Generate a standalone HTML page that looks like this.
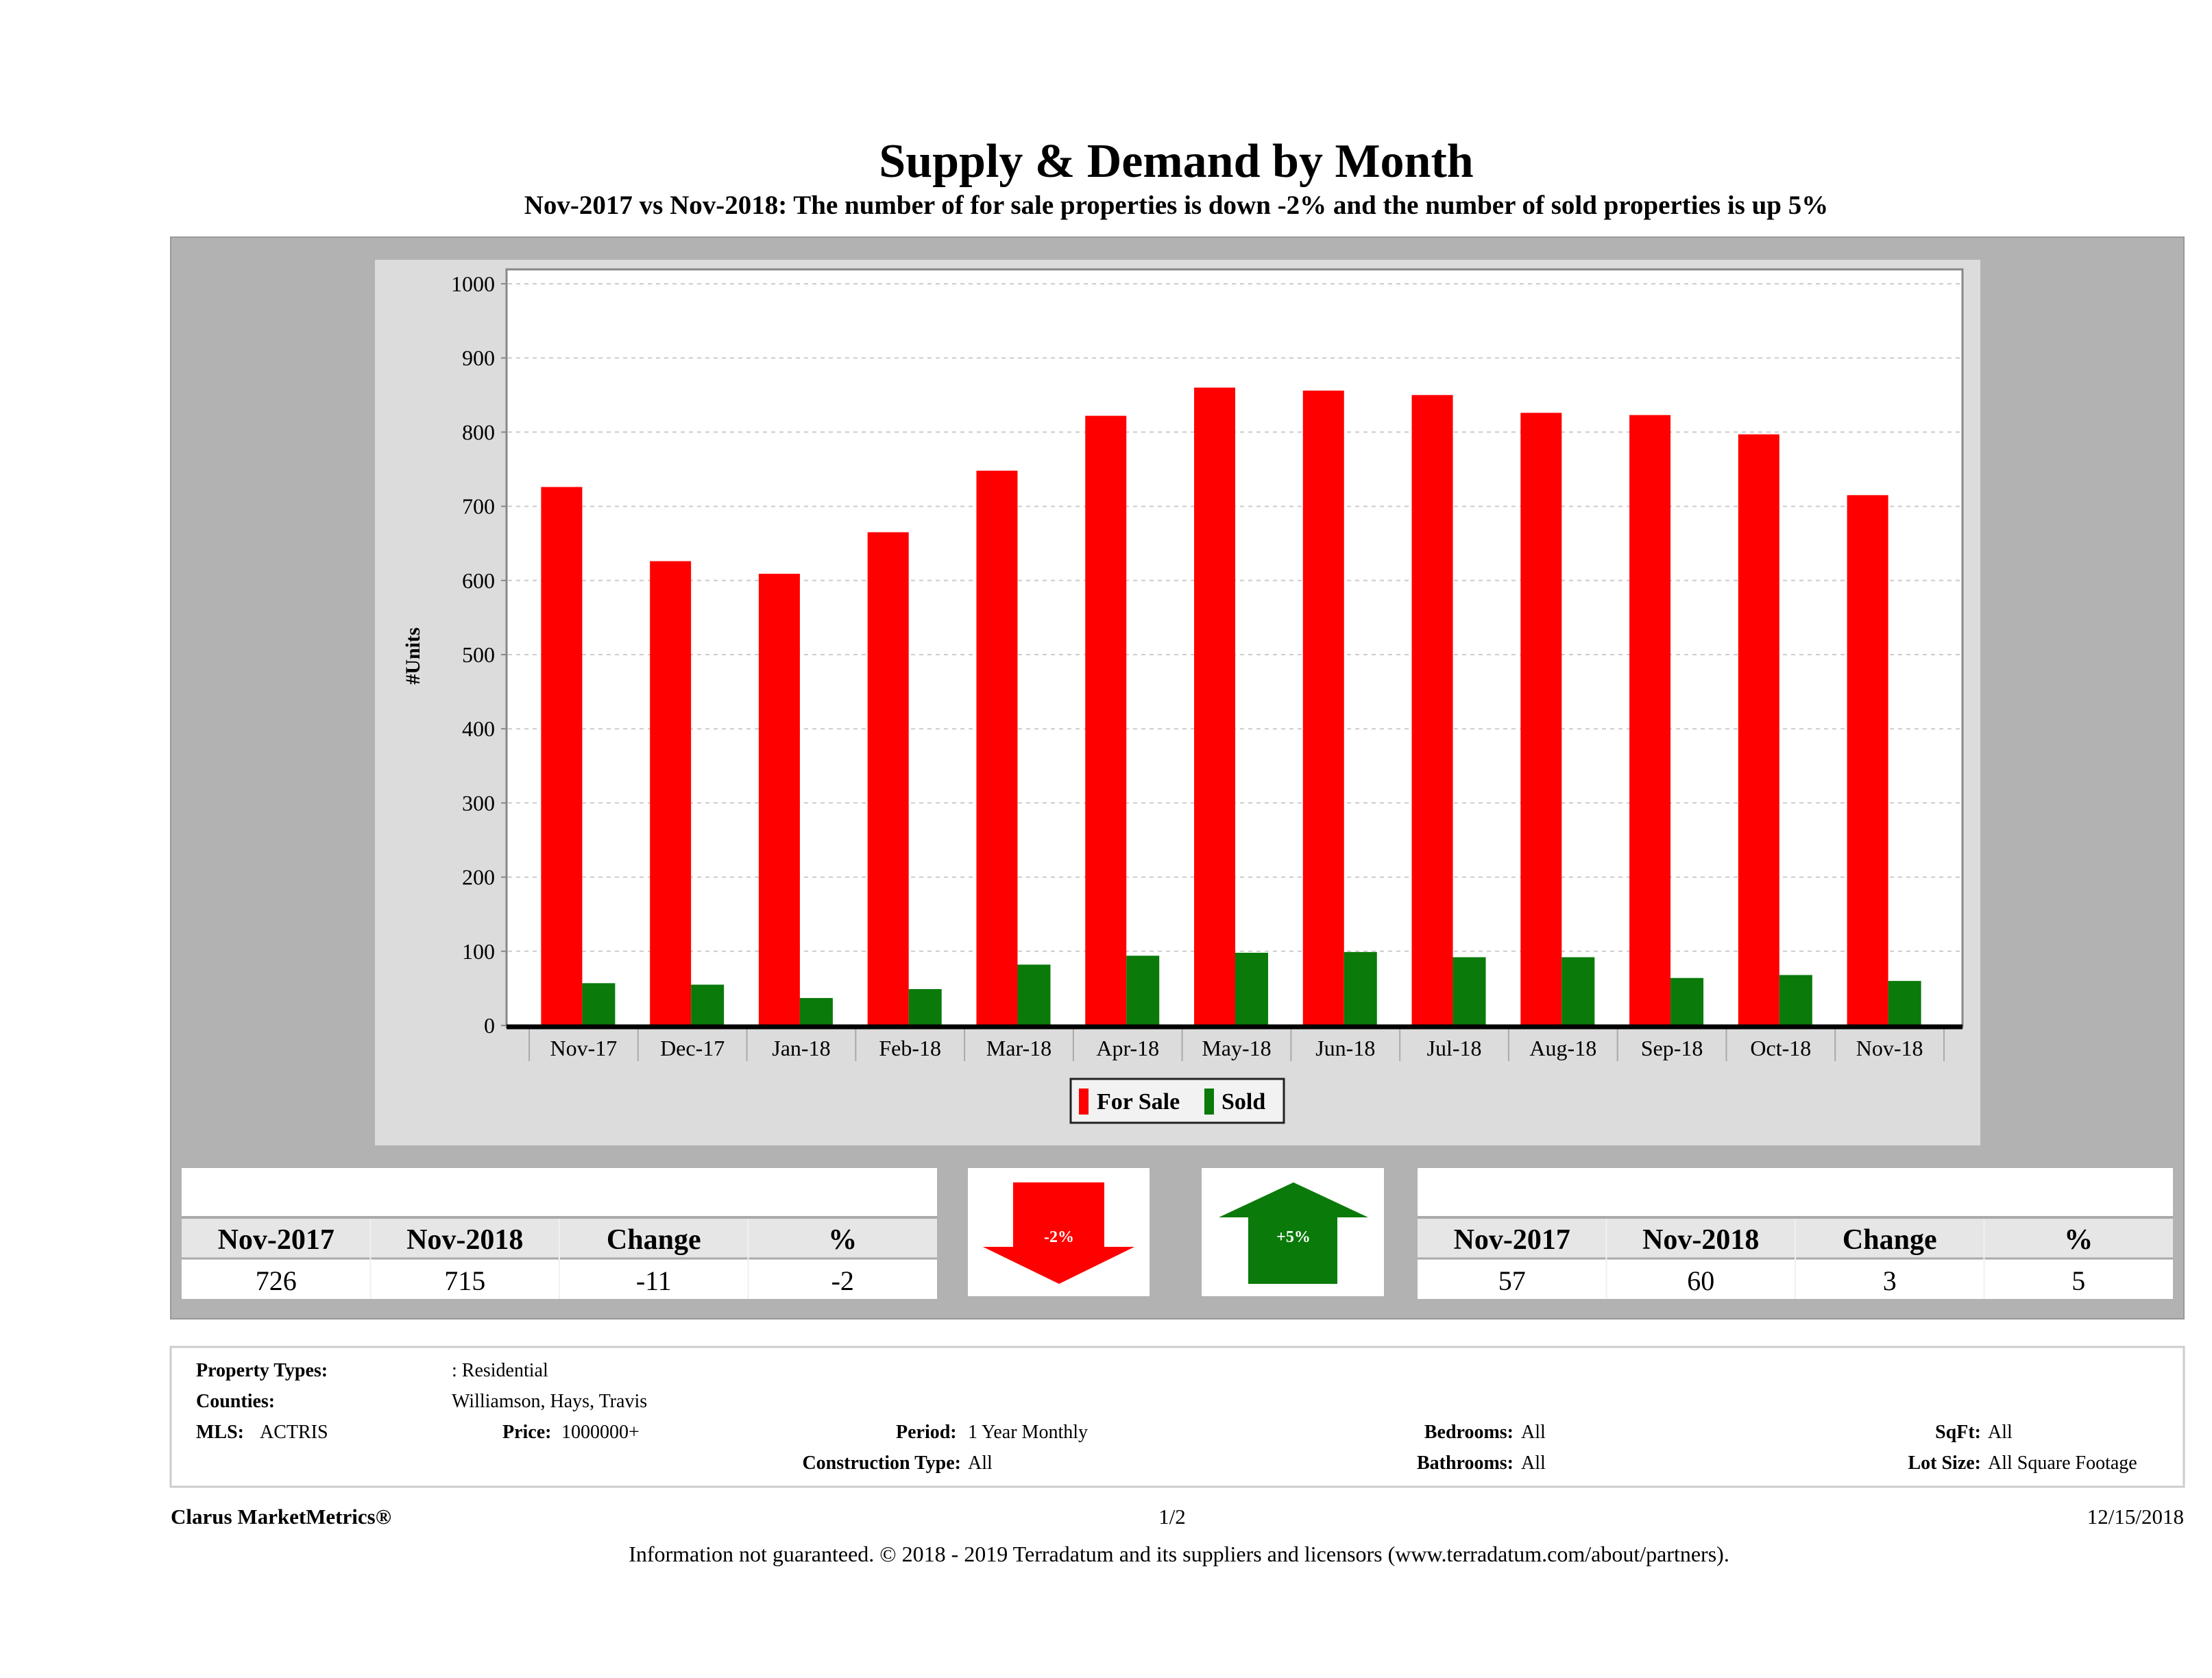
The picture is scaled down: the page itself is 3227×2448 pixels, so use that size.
<!DOCTYPE html>
<html><head><meta charset="utf-8"><style>
html,body{margin:0;padding:0;background:#fff;}
svg{display:block;font-family:"Liberation Serif",serif;}
</style></head><body>
<svg id="pg" width="3227" height="2448" viewBox="0 0 3227 2448" xmlns="http://www.w3.org/2000/svg">
<text x="1716" y="258" font-size="70" font-weight="bold" text-anchor="middle">Supply &amp; Demand by Month</text>
<text x="1716" y="312" font-size="39" font-weight="bold" text-anchor="middle">Nov-2017 vs Nov-2018: The number of for sale properties is down -2% and the number of sold properties is up 5%</text>
<rect x="249" y="346" width="2937" height="1578" fill="#b2b2b2" stroke="#999" stroke-width="2"/>
<rect x="547" y="379" width="2342" height="1292" fill="#dcdcdc"/>
<rect x="739" y="393" width="2124" height="1105" fill="#fff" stroke="#888" stroke-width="3"/>
<g id="grid"></g>
<g id="bars"></g>
<g id="xaxis"></g>
<g id="yaxis"></g>
<text transform="translate(612,957) rotate(-90)" font-size="30" font-weight="bold" text-anchor="middle">#Units</text>
<g>
<rect x="1562" y="1574" width="311" height="64" fill="#f2f2f2" stroke="#222" stroke-width="3"/>
<rect x="1574" y="1588" width="14" height="38" fill="#f00"/>
<text x="1600" y="1618" font-size="34" font-weight="bold">For Sale</text>
<rect x="1757" y="1588" width="14" height="38" fill="#0a7a0a"/>
<text x="1782" y="1618" font-size="34" font-weight="bold">Sold</text>
</g>
<g id="tables"></g>
<g>
<rect x="1412" y="1704" width="265" height="187" fill="#fff"/>
<polygon points="1478,1725 1611,1725 1611,1819 1655,1819 1545,1873 1434,1819 1478,1819" fill="#f00"/>
<text x="1545" y="1812" font-size="24" fill="#fff" font-weight="bold" text-anchor="middle">-2%</text>
</g>
<g>
<rect x="1753" y="1704" width="266" height="187" fill="#fff"/>
<polygon points="1887,1725 1996,1776 1951,1776 1951,1873 1821,1873 1821,1776 1778,1776" fill="#0a7a0a"/>
<text x="1887" y="1812" font-size="24" fill="#fff" font-weight="bold" text-anchor="middle">+5%</text>
</g>
<rect x="249" y="1965" width="2937" height="204" fill="#fff" stroke="#ccc" stroke-width="3"/>
<g font-size="28">
<text x="286" y="2008" font-weight="bold">Property Types:</text>
<text x="659" y="2008">: Residential</text>
<text x="286" y="2053" font-weight="bold">Counties:</text>
<text x="659" y="2053">Williamson, Hays, Travis</text>
<text x="286" y="2098" font-weight="bold">MLS:</text>
<text x="379" y="2098">ACTRIS</text>
<text x="733" y="2098" font-weight="bold">Price:</text>
<text x="819" y="2098">1000000+</text>
<text x="1307" y="2098" font-weight="bold">Period:</text>
<text x="1412" y="2098">1 Year Monthly</text>
<text x="2208" y="2098" font-weight="bold" text-anchor="end">Bedrooms:</text>
<text x="2219" y="2098">All</text>
<text x="2890" y="2098" font-weight="bold" text-anchor="end">SqFt:</text>
<text x="2900" y="2098">All</text>
<text x="1402" y="2143" font-weight="bold" text-anchor="end">Construction Type:</text>
<text x="1412" y="2143">All</text>
<text x="2208" y="2143" font-weight="bold" text-anchor="end">Bathrooms:</text>
<text x="2219" y="2143">All</text>
<text x="2890" y="2143" font-weight="bold" text-anchor="end">Lot Size:</text>
<text x="2900" y="2143">All Square Footage</text>
</g>
<text x="249" y="2223" font-size="31" font-weight="bold">Clarus MarketMetrics®</text>
<text x="1710" y="2223" font-size="31" text-anchor="middle">1/2</text>
<text x="3186" y="2223" font-size="31" text-anchor="end">12/15/2018</text>
<text x="1720" y="2278" font-size="32" text-anchor="middle">Information not guaranteed. © 2018 - 2019 Terradatum and its suppliers and licensors (www.terradatum.com/about/partners).</text>
</svg>
<script>
const categories=["Nov-17","Dec-17","Jan-18","Feb-18","Mar-18","Apr-18","May-18","Jun-18","Jul-18","Aug-18","Sep-18","Oct-18","Nov-18"];
const forSale=[726,626,609,665,748,822,860,856,850,826,823,797,715];
const sold=[57,55,37,49,82,94,98,99,92,92,64,68,60];
const yTicks=[0,100,200,300,400,500,600,700,800,900,1000];
const tableHeaders=["Nov-2017","Nov-2018","Change","%"];
const forSaleSummary=["726","715","-11","-2"];
const soldSummary=["57","60","3","5"];

const NS="http://www.w3.org/2000/svg";
function mk(tag,attrs,parent){const e=document.createElementNS(NS,tag);for(const k in attrs)e.setAttribute(k,attrs[k]);parent.appendChild(e);return e;}
const y0=1496,y1000=414,xStart=772,catW=(2836-772)/categories.length;
function yS(v){return y0-(v/1000)*(y0-y1000);}
function xS(i){return xStart+i*catW;}
const grid=document.getElementById('grid'),bars=document.getElementById('bars'),xa=document.getElementById('xaxis'),ya=document.getElementById('yaxis');
yTicks.forEach(t=>{
  if(t>0){const l=mk('line',{x1:741,x2:2861,y1:yS(t),y2:yS(t),stroke:'#ccc','stroke-width':2,'stroke-dasharray':'6,6'},grid);
  
  }
  const tk=mk('line',{x1:731,x2:739,y1:yS(t),y2:yS(t),stroke:'#888','stroke-width':2},ya);
  
  
  const tx=mk('text',{x:722,y:yS(t)+11,'font-size':32,'text-anchor':'end'},ya);
  tx.textContent=t;
  
  
});
const bw=60;
categories.forEach((c,i)=>{
  const cx=xS(i)+catW/2;
  const r=mk('rect',{x:cx-bw-2,y:yS(forSale[i]),width:bw,height:y0-yS(forSale[i]),fill:'#ff0000'},bars);
  
  
  const g=mk('rect',{x:cx-2,y:yS(sold[i]),width:bw-12,height:y0-yS(sold[i]),fill:'#0a7a0a'},bars);
  
  
  const tk=mk('line',{x1:xS(i),x2:xS(i),y1:1500,y2:1548,stroke:'#aaa','stroke-width':2},xa);
  
  
  const tx=mk('text',{x:cx,y:1540,'font-size':32,'text-anchor':'middle'},xa);
  tx.textContent=c;
  
  
});
const lt=mk('line',{x1:xS(categories.length),x2:xS(categories.length),y1:1500,y2:1548,stroke:'#aaa','stroke-width':2},xa);


const ax=mk('line',{x1:739,x2:2863,y1:y0+2,y2:y0+2,stroke:'#000','stroke-width':7},xa);



const tb=document.getElementById('tables');
function table(x0,name,vals){
  const w=1102,cw=w/4;
  const g=mk('g',{},tb);
  
  
  mk('rect',{x:x0,y:1704,width:w,height:191,fill:'#fff'},g);
  mk('rect',{x:x0,y:1776,width:w,height:60,fill:'#e6e6e6'},g);
  mk('line',{x1:x0,x2:x0+w,y1:1776,y2:1776,stroke:'#aaa','stroke-width':4},g);
  mk('line',{x1:x0,x2:x0+w,y1:1836,y2:1836,stroke:'#aaa','stroke-width':3},g);
  for(let j=1;j<4;j++)mk('line',{x1:x0+j*cw,x2:x0+j*cw,y1:1778,y2:1895,stroke:'#f0f0f0','stroke-width':2},g);
  tableHeaders.forEach((h,j)=>{
    const t=mk('text',{x:x0+cw*(j+0.5),y:1822,'font-size':42,'font-weight':'bold','text-anchor':'middle'},g);
    t.textContent=h;
    
    
    const v=mk('text',{x:x0+cw*(j+0.5),y:1882,'font-size':40,'text-anchor':'middle'},g);
    v.textContent=vals[j];
    
    
  });
}
table(265,'for-sale-summary-table',forSaleSummary);
table(2068,'sold-summary-table',soldSummary);
</script>
</body></html>
